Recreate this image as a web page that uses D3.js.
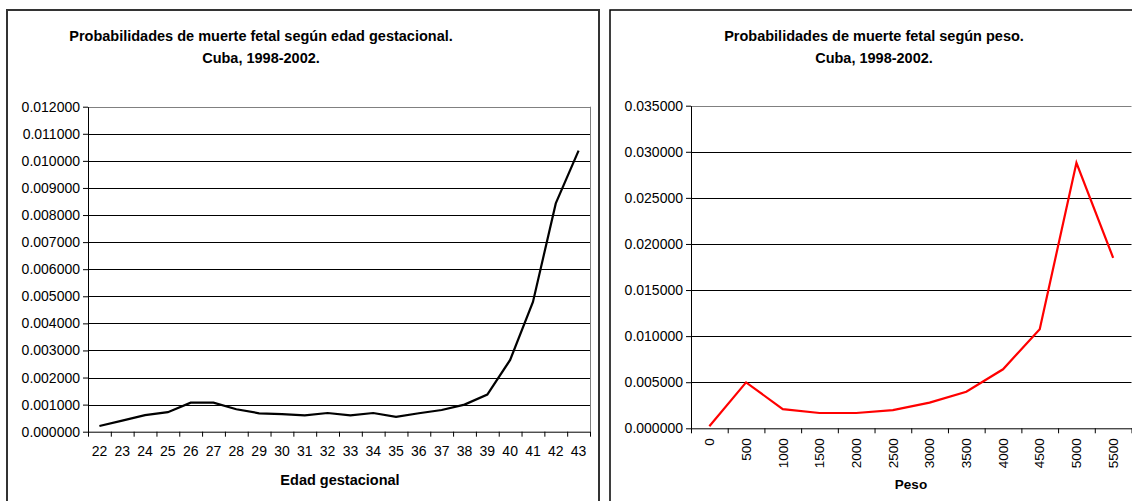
<!DOCTYPE html>
<html>
<head>
<meta charset="utf-8">
<script src="https://cdn.jsdelivr.net/npm/d3@7"></script>
<style>
  body { margin: 0; background: #fff; }
  svg { display: block; font-family: "Liberation Sans", Arial, sans-serif; }
</style>
</head>
<body>
<div id="chart"></div>
<script>
// data
const semanas = ["22","23","24","25","26","27","28","29","30","31","32","33","34","35","36","37","38","39","40","41","42","43"];
const probSemanas = [0.00021,0.00041,0.00061,0.00072,0.00107,0.00107,0.00083,0.00068,0.00065,0.00060,0.00069,0.00060,0.00069,0.00055,0.00068,0.00080,0.00100,0.00137,0.00265,0.00479,0.00843,0.01038];
const yTicksSemanas = [0,0.001,0.002,0.003,0.004,0.005,0.006,0.007,0.008,0.009,0.010,0.011,0.012];

const pesos = ["0","500","1000","1500","2000","2500","3000","3500","4000","4500","5000","5500"];
const probPesos = [0.00022,0.00498,0.00208,0.00166,0.00166,0.00197,0.00278,0.00397,0.00640,0.01074,0.02880,0.01850];
const yTicksPesos = [0,0.005,0.010,0.015,0.020,0.025,0.030,0.035];

const svg = d3.select("#chart").append("svg")
  .attr("width", 1132).attr("height", 501);

// outer frames
svg.append("rect").attr("x", 7).attr("y", 10).attr("width", 592).attr("height", 500)
  .attr("fill", "none").attr("stroke", "#333").attr("stroke-width", 2);
svg.append("rect").attr("x", 610).attr("y", 10).attr("width", 530).attr("height", 500)
  .attr("fill", "none").attr("stroke", "#000").attr("stroke-width", 1.5);

function lineChart(opts) {
  let x0 = opts.left, x1 = opts.right, yT = opts.top, yB = opts.bottom;
  let g = svg.append("g");

  let xScale = d3.scaleBand().domain(opts.cats).range([x0, x1]).padding(0);
  let xEdge = d3.scaleLinear().domain([0, opts.cats.length]).range([x0, x1]);
  let yScale = d3.scaleLinear().domain([0, d3.max(opts.yTicks)]).range([yB, yT]);

  // titles
  opts.title.forEach(function(t, i) {
    g.append("text").attr("x", opts.titleX).attr("y", opts.titleY + i * 21.5)
      .attr("text-anchor", "middle").attr("font-weight", "bold")
      .attr("font-size", "14.5px").attr("fill", "#000").text(t);
  });

  // gridlines
  g.selectAll(".grid").data(opts.yTicks.slice(1)).enter().append("line")
    .attr("x1", x0).attr("x2", x1)
    .attr("y1", d => Math.round(yScale(d)) + 0.5).attr("y2", d => Math.round(yScale(d)) + 0.5)
    .attr("stroke", (d, i) => i === opts.yTicks.length - 2 ? "#808080" : "#000")
    .attr("stroke-width", 1);
  // plot area right border
  g.append("line").attr("x1", Math.round(x1) + 0.5).attr("x2", Math.round(x1) + 0.5)
    .attr("y1", yT).attr("y2", yB).attr("stroke", "#808080");

  // y axis
  let yAxis = g.append("g").attr("transform", "translate(" + x0 + ",0)")
    .call(d3.axisLeft(yScale).tickValues(opts.yTicks).tickFormat(d3.format(".6f"))
      .tickSize(5).tickSizeOuter(0).tickPadding(3));
  yAxis.selectAll("text").attr("font-size", "14px").attr("fill", "#000")
    .style("font-family", "'Liberation Sans', Arial, sans-serif");
  yAxis.selectAll("line, path").attr("stroke", "#000");

  // x axis ticks at category edges
  let xTicks = g.append("g").attr("transform", "translate(0," + yB + ")")
    .call(d3.axisBottom(xEdge).tickValues(d3.range(opts.cats.length + 1))
      .tickFormat("").tickSize(5).tickSizeOuter(0));
  xTicks.selectAll("line, path").attr("stroke", "#000");

  // x labels
  let xLab = g.append("g").attr("transform", "translate(0," + yB + ")")
    .call(d3.axisBottom(xScale).tickSize(0).tickPadding(opts.labelPad));
  xLab.select(".domain").remove();
  xLab.selectAll("text").attr("font-size", opts.labelSize).attr("fill", "#000")
    .style("font-family", "'Liberation Sans', Arial, sans-serif");
  if (opts.rotate) {
    xLab.selectAll("text")
      .attr("transform", "rotate(-90)")
      .attr("text-anchor", "end")
      .attr("x", -opts.labelPad).attr("y", 0).attr("dy", "0.35em");
  }

  // x axis title
  g.append("text").attr("x", opts.xTitleX).attr("y", opts.xTitleY)
    .attr("text-anchor", "middle").attr("font-weight", "bold")
    .attr("font-size", opts.xTitleSize).attr("fill", "#000").text(opts.xTitle);

  // series
  let line = d3.line()
    .x((d, i) => xScale(opts.cats[i]) + xScale.bandwidth() / 2)
    .y(d => yScale(d));
  g.append("path").datum(opts.values)
    .attr("d", line).attr("fill", "none")
    .attr("stroke", opts.color).attr("stroke-width", 2.2)
    .attr("stroke-linejoin", "miter");
}

lineChart({
  cats: semanas, values: probSemanas, yTicks: yTicksSemanas,
  left: 88, right: 590, top: 106.7, bottom: 431.7,
  title: ["Probabilidades de muerte fetal según edad gestacional.", "Cuba, 1998-2002."],
  titleX: 261, titleY: 41,
  labelPad: 14, labelSize: "14px", rotate: false,
  xTitle: "Edad gestacional", xTitleX: 340, xTitleY: 485, xTitleSize: "14.5px",
  color: "#000"
});

lineChart({
  cats: pesos, values: probPesos, yTicks: yTicksPesos,
  left: 691, right: 1131.5, top: 105.7, bottom: 428.3,
  title: ["Probabilidades de muerte fetal según peso.", "Cuba, 1998-2002."],
  titleX: 874, titleY: 41,
  labelPad: 10, labelSize: "13.5px", rotate: true,
  xTitle: "Peso", xTitleX: 911, xTitleY: 489, xTitleSize: "13.5px",
  color: "#ff0000"
});
</script>
</body>
</html>
